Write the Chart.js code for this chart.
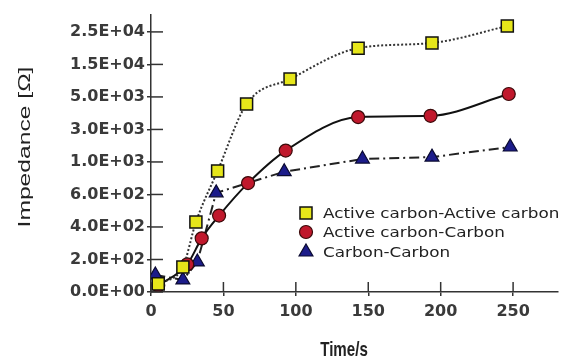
<!DOCTYPE html>
<html>
<head>
<meta charset="utf-8">
<script src="https://cdn.jsdelivr.net/npm/chart.js@4.4.0/dist/chart.umd.min.js"></script>
<style>
    html, body { margin: 0; padding: 0; background: #fff; }
    #wrap { width: 568px; height: 363px; }
</style>
</head>
<body>
<div id="wrap"><canvas id="c"></canvas></div>
<script>
// Eixo Y com rótulos não lineares (espaçamento igual)
const yTickLabels = ['0.0E+00', '2.0E+02', '4.0E+02', '6.0E+02', '1.0E+03', '3.0E+03', '5.0E+03', '1.5E+04', '2.5E+04'];
const yTickValues = [0, 200, 400, 600, 1000, 3000, 5000, 15000, 25000];
const xTicks = [0, 50, 100, 150, 200, 250];

// Séries (tempo em s, impedância em ohm)
const seriesNames = ['Active carbon-Active carbon', 'Active carbon-Carbon', 'Carbon-Carbon'];
const timeAA = [5, 22, 31, 46, 66, 96, 143, 194, 246];
const impAA = [50, 154, 430, 890, 4560, 10500, 20000, 21600, 26800];
const timeAC = [5, 25, 35, 47, 67, 93, 143, 193, 247];
const impAC = [40, 170, 330, 470, 740, 1700, 3760, 3840, 5900];
const timeCC = [3, 22, 32, 45, 92, 146, 194, 248];
const impCC = [105, 74, 185, 620, 880, 1180, 1300, 1920];

// Converte impedância para a posição no eixo (um passo por rótulo)
function toPos(v) {
    const n = yTickValues.length;
    for (let i = 0; i < n - 1; i++) {
        if (v < yTickValues[i + 1]) {
            return i + (v - yTickValues[i]) / (yTickValues[i + 1] - yTickValues[i]);
        }
    }
    return (n - 1) + (v - yTickValues[n - 1]) / (yTickValues[n - 1] - yTickValues[n - 2]);
}

function makePoints(times, values) {
    return times.map((t, i) => ({ x: t, y: toPos(values[i]) }));
}

const axisColor = '#333';
const tickFont = { family: 'DejaVu Sans', size: 16, weight: 'bold' };

// Desenha o marcador da legenda
function drawMarker(ctx, style, r, x, y) {
    if (style === 'rect') {
        const s = Math.SQRT1_2 * r;
        ctx.rect(x - s, y - s, 2 * s, 2 * s);
    } else if (style === 'circle') {
        ctx.arc(x, y, r, 0, Math.PI * 2);
    } else {
        const w = r * Math.sqrt(3) / 2;
        ctx.moveTo(x, y - r);
        ctx.lineTo(x + w, y + r / 2);
        ctx.lineTo(x - w, y + r / 2);
        ctx.closePath();
    }
}

// Plugin: ticks internos, títulos dos eixos e legenda
const decorPlugin = {
    id: 'decor',
    afterDraw(chart) {
        const ctx = chart.ctx;
        const xs = chart.scales.x;
        const ys = chart.scales.y;
        const area = chart.chartArea;
        ctx.save();
        ctx.strokeStyle = axisColor;
        ctx.lineWidth = 1.5;
        ys.ticks.forEach(t => {
            const py = ys.getPixelForValue(t.value);
            ctx.beginPath();
            ctx.moveTo(area.left, py);
            ctx.lineTo(area.left + 12, py);
            ctx.stroke();
        });
        xs.ticks.forEach(t => {
            const px = xs.getPixelForValue(t.value);
            ctx.beginPath();
            ctx.moveTo(px, area.bottom);
            ctx.lineTo(px, area.bottom - 10);
            ctx.stroke();
        });

        // Título do eixo Y
        ctx.fillStyle = '#222';
        ctx.save();
        ctx.translate(25, 147);
        ctx.rotate(-Math.PI / 2);
        ctx.scale(1.45, 1);
        ctx.font = '17px "Liberation Sans"';
        ctx.textAlign = 'center';
        ctx.textBaseline = 'middle';
        ctx.fillText('Impedance [Ω]', 0, 0);
        ctx.restore();

        // Título do eixo X
        ctx.save();
        ctx.translate(344, 350);
        ctx.scale(0.72, 1);
        ctx.font = 'bold 21px "Liberation Sans"';
        ctx.textAlign = 'center';
        ctx.textBaseline = 'middle';
        ctx.fillText('Time/s', 0, 0);
        ctx.restore();

        // Legenda
        const rows = [213, 232, 252];
        chart.data.datasets.forEach((ds, i) => {
            ctx.fillStyle = ds.pointBackgroundColor;
            ctx.strokeStyle = ds.pointBorderColor;
            ctx.lineWidth = ds.pointBorderWidth;
            ctx.beginPath();
            drawMarker(ctx, ds.pointStyle, ds.pointRadius, 306, rows[i]);
            ctx.fill();
            ctx.stroke();
            ctx.save();
            ctx.translate(323, rows[i] + 1);
            ctx.scale(1.2, 1);
            ctx.fillStyle = '#222';
            ctx.font = '14px "DejaVu Sans"';
            ctx.textAlign = 'left';
            ctx.textBaseline = 'middle';
            ctx.fillText(ds.label, 0, 0);
            ctx.restore();
        });
        ctx.restore();
    }
};

new Chart(document.getElementById('c'), {
    type: 'line',
    data: {
        datasets: [{
            label: seriesNames[0],
            data: makePoints(timeAA, impAA),
            borderColor: '#333',
            borderWidth: 2,
            borderDash: [2, 2],
            cubicInterpolationMode: 'monotone',
            pointStyle: 'rect',
            pointRadius: 8.5,
            pointBackgroundColor: '#e6e61a',
            pointBorderColor: '#111',
            pointBorderWidth: 1.5
        }, {
            label: seriesNames[1],
            data: makePoints(timeAC, impAC),
            borderColor: '#111',
            borderWidth: 2,
            cubicInterpolationMode: 'monotone',
            pointStyle: 'circle',
            pointRadius: 6.5,
            pointBackgroundColor: '#c0182c',
            pointBorderColor: '#3a0a0a',
            pointBorderWidth: 1.2
        }, {
            label: seriesNames[2],
            data: makePoints(timeCC, impCC),
            borderColor: '#222',
            borderWidth: 2,
            borderDash: [10, 4, 2, 4],
            tension: 0,
            pointStyle: 'triangle',
            pointRadius: 8,
            pointBackgroundColor: '#1c1c8a',
            pointBorderColor: '#0a0a30',
            pointBorderWidth: 1.2
        }]
    },
    options: {
        responsive: true,
        maintainAspectRatio: false,
        animation: false,
        layout: { padding: { top: 15, right: 1, left: 0, bottom: 0 } },
        plugins: {
            legend: { display: false },
            tooltip: { enabled: false }
        },
        scales: {
            x: {
                type: 'linear',
                min: 0,
                max: 281,
                afterBuildTicks: s => { s.ticks = xTicks.map(v => ({ value: v })); },
                afterFit: s => { s.height = 71; },
                border: { display: true, color: axisColor, width: 1.5 },
                grid: { drawOnChartArea: false, drawTicks: true, tickLength: 4, color: axisColor, lineWidth: 1.5 },
                ticks: { font: tickFont, color: '#3a3a3a', padding: 6, maxRotation: 0 }
            },
            y: {
                type: 'linear',
                min: 0,
                max: 8.52,
                afterBuildTicks: s => { s.ticks = yTickLabels.map((_, i) => ({ value: i })); },
                afterFit: s => { s.width = 151; },
                border: { display: true, color: axisColor, width: 1.5 },
                grid: { drawOnChartArea: false, drawTicks: true, tickLength: 4, color: axisColor, lineWidth: 1.5 },
                ticks: {
                    font: tickFont,
                    color: '#3a3a3a',
                    padding: 2,
                    callback: v => yTickLabels[v]
                }
            }
        }
    },
    plugins: [decorPlugin]
});
</script>
</body>
</html>
